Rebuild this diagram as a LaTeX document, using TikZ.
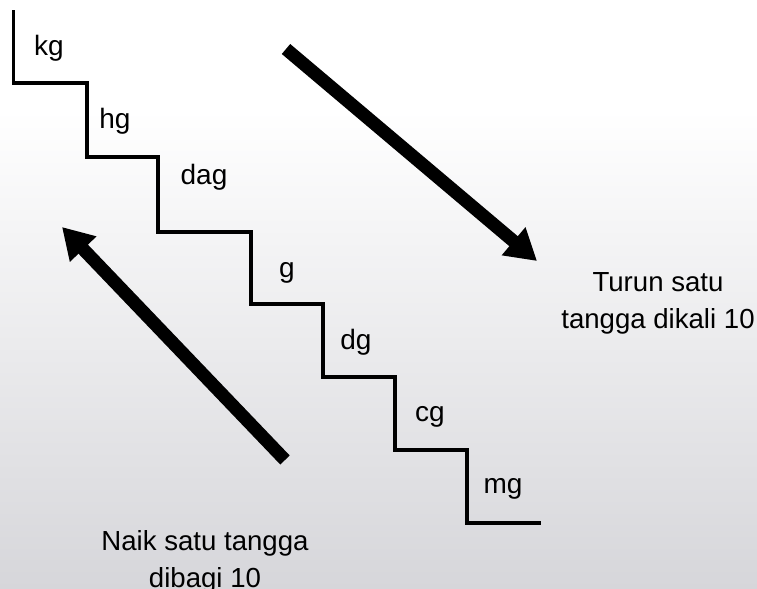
\documentclass[tikz,border=0pt]{standalone}
\usepackage{fontspec}
\setmainfont{Liberation Sans}
\usetikzlibrary{arrows.meta}
\definecolor{bgbottom}{RGB}{214,214,218}
\tikzset{
  stair/.style={line width=2.4pt, line join=miter, line cap=rect},
  unitlabel/.style={font=\fontsize{21pt}{27pt}\selectfont, anchor=base, inner sep=0pt},
  notelabel/.style={font=\fontsize{20.7pt}{27.3pt}\selectfont, align=center, inner sep=0pt, anchor=base},
  bigarrow/.style={line width=9.8pt, -{Triangle[length=23pt,width=26pt]}},
}
\begin{document}
\begin{tikzpicture}[x=0.75pt,y=-0.75pt]
  % canvas with a soft vertical fade
  \useasboundingbox (0,0) rectangle (757,589);
  \fill[white] (0,0) rectangle (757,110);
  \shade[top color=white, bottom color=bgbottom] (0,110) rectangle (757,589);

  % staircase of units
  \draw[stair] (13.5,12) |- (87,83) |- (158,157) |- (251,232) |- (323,304)
               |- (395,377) |- (467,450) |- (539,523);

  % step labels
  \node[unitlabel] (kg)  at (49,55)   {kg};
  \node[unitlabel] (hg)  at (115,128) {hg};
  \node[unitlabel] (dag) at (204,184) {dag};
  \node[unitlabel] (g)   at (287,277) {g};
  \node[unitlabel] (dg)  at (356,349) {dg};
  \node[unitlabel] (cg)  at (430,421) {cg};
  \node[unitlabel] (mg)  at (503,493) {mg};

  % direction arrows
  \coordinate (downA) at (286,49);
  \coordinate (downB) at (537,261);
  \coordinate (upA)   at (285,460);
  \coordinate (upB)   at (62,227);
  \draw[bigarrow] (downA) -- (downB);
  \draw[bigarrow] (upA) -- (upB);

  % explanations (base anchor sits on the last line)
  \node[notelabel] (turun) at (658,328) {Turun satu\\tangga dikali 10};
  \node[notelabel] (naik)  at (205,587) {Naik satu tangga\\dibagi 10};
\end{tikzpicture}
\end{document}
